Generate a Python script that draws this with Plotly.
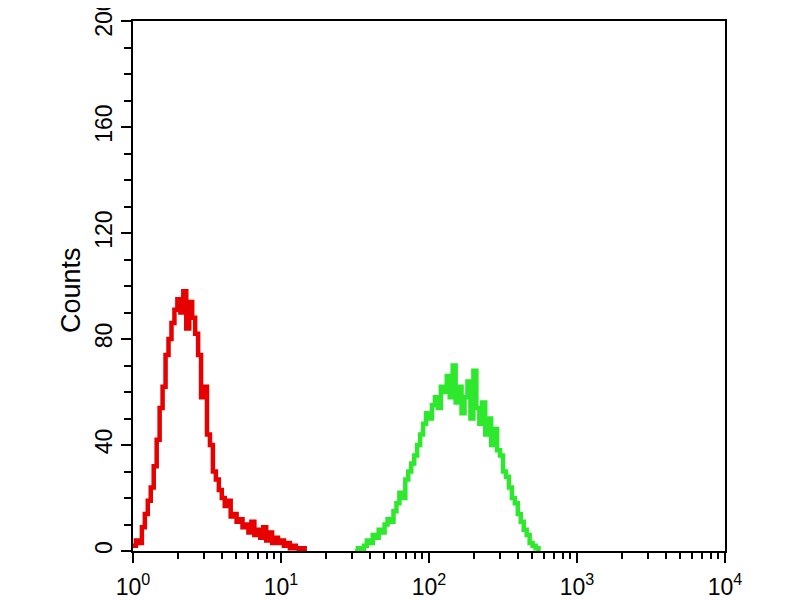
import numpy as np
import plotly.graph_objects as go

# Histogram channel positions (log10 of fluorescence intensity), step 0.02
red_log_start = 0.0
green_log_start = 1.5
log_step = 0.02

red_counts = [2, 4, 3, 9, 14, 19, 24, 32, 42, 54, 62, 74, 80, 86, 91, 95, 90, 98, 84, 94,
              88, 82, 74, 58, 62, 44, 40, 30, 27, 23, 20, 17, 19, 13, 14, 11, 12, 9, 10, 7,
              11, 6, 8, 5, 9, 4, 7, 3, 5, 3, 4, 2, 3, 1, 2, 1, 0, 1, 0]

green_counts = [0, 1, 0, 2, 4, 3, 6, 5, 8, 7, 10, 12, 11, 15, 18, 22, 20, 27, 30, 33,
                36, 40, 44, 48, 52, 50, 55, 58, 54, 62, 60, 66, 58, 70, 56, 62, 52, 58, 64, 50,
                68, 54, 48, 56, 44, 50, 40, 46, 38, 36, 30, 28, 24, 20, 18, 14, 11, 8, 6, 3,
                2, 1, 0]

x_tick_vals = [1, 10, 100, 1000, 10000]
x_tick_text = ["10<sup>0</sup>", "10<sup>1</sup>", "10<sup>2</sup>", "10<sup>3</sup>", "10<sup>4</sup>"]
y_tick_step = 40
y_max = 200
y_label = "Counts"

red_x = 10 ** (red_log_start + log_step * np.arange(len(red_counts)))
green_x = 10 ** (green_log_start + log_step * np.arange(len(green_counts)))

FONT = "Liberation Sans, Arial, sans-serif"

fig = go.Figure()
fig.add_trace(go.Scatter(x=red_x, y=red_counts, mode="lines",
                         line=dict(color="#e60000", width=4.5, shape="hv"), showlegend=False))
fig.add_trace(go.Scatter(x=green_x, y=green_counts, mode="lines",
                         line=dict(color="#2ee82e", width=4.5, shape="hv"), showlegend=False))
# invisible trace to carry the minor-tick overlay axis
fig.add_trace(go.Scatter(x=[1, 10000], y=[0, 0], mode="lines", xaxis="x2",
                         line=dict(color="rgba(0,0,0,0)", width=0), showlegend=False,
                         hoverinfo="skip"))

minor_x = [k * 10 ** d for d in range(4) for k in range(2, 10)]

fig.update_layout(
    width=800, height=600,
    margin=dict(l=125, r=83, t=13, b=57),
    paper_bgcolor="white", plot_bgcolor="white",
    font=dict(family=FONT, color="black"),
    xaxis=dict(type="log", range=[0, 4], showgrid=False, zeroline=False, automargin=False,
               showline=True, linecolor="black", linewidth=2, mirror=True,
               tickmode="array", tickvals=x_tick_vals, ticktext=x_tick_text,
               ticks="outside", ticklen=10, tickwidth=2, tickcolor="black",
               ticklabelstandoff=4, ticklabeloverflow="allow",
               tickfont=dict(size=23, family=FONT)),
    xaxis2=dict(type="log", range=[0, 4], overlaying="x", anchor="y", side="bottom",
                showgrid=False, zeroline=False, automargin=False, showline=False,
                tickmode="array", tickvals=minor_x, showticklabels=False,
                ticks="outside", ticklen=7, tickwidth=2, tickcolor="black"),
    yaxis=dict(range=[0, y_max], showgrid=False, zeroline=False, automargin=False,
               showline=True, linecolor="black", linewidth=2, mirror=True,
               tickmode="linear", tick0=0, dtick=y_tick_step,
               ticks="outside", ticklen=10, tickwidth=2, tickcolor="black",
               ticklabeloverflow="allow",
               tickangle=-90, tickfont=dict(size=23, family=FONT),
               minor=dict(tickmode="linear", tick0=0, dtick=10, ticks="outside", ticklen=7,
                          tickwidth=2, tickcolor="black", showgrid=False)),
    annotations=[dict(text=y_label, xref="paper", yref="paper", x=-0.1047, y=0.4925,
                      xanchor="center", yanchor="middle", textangle=-90, showarrow=False,
                      font=dict(size=27, family=FONT))],
)

fig.write_html("out.html")
